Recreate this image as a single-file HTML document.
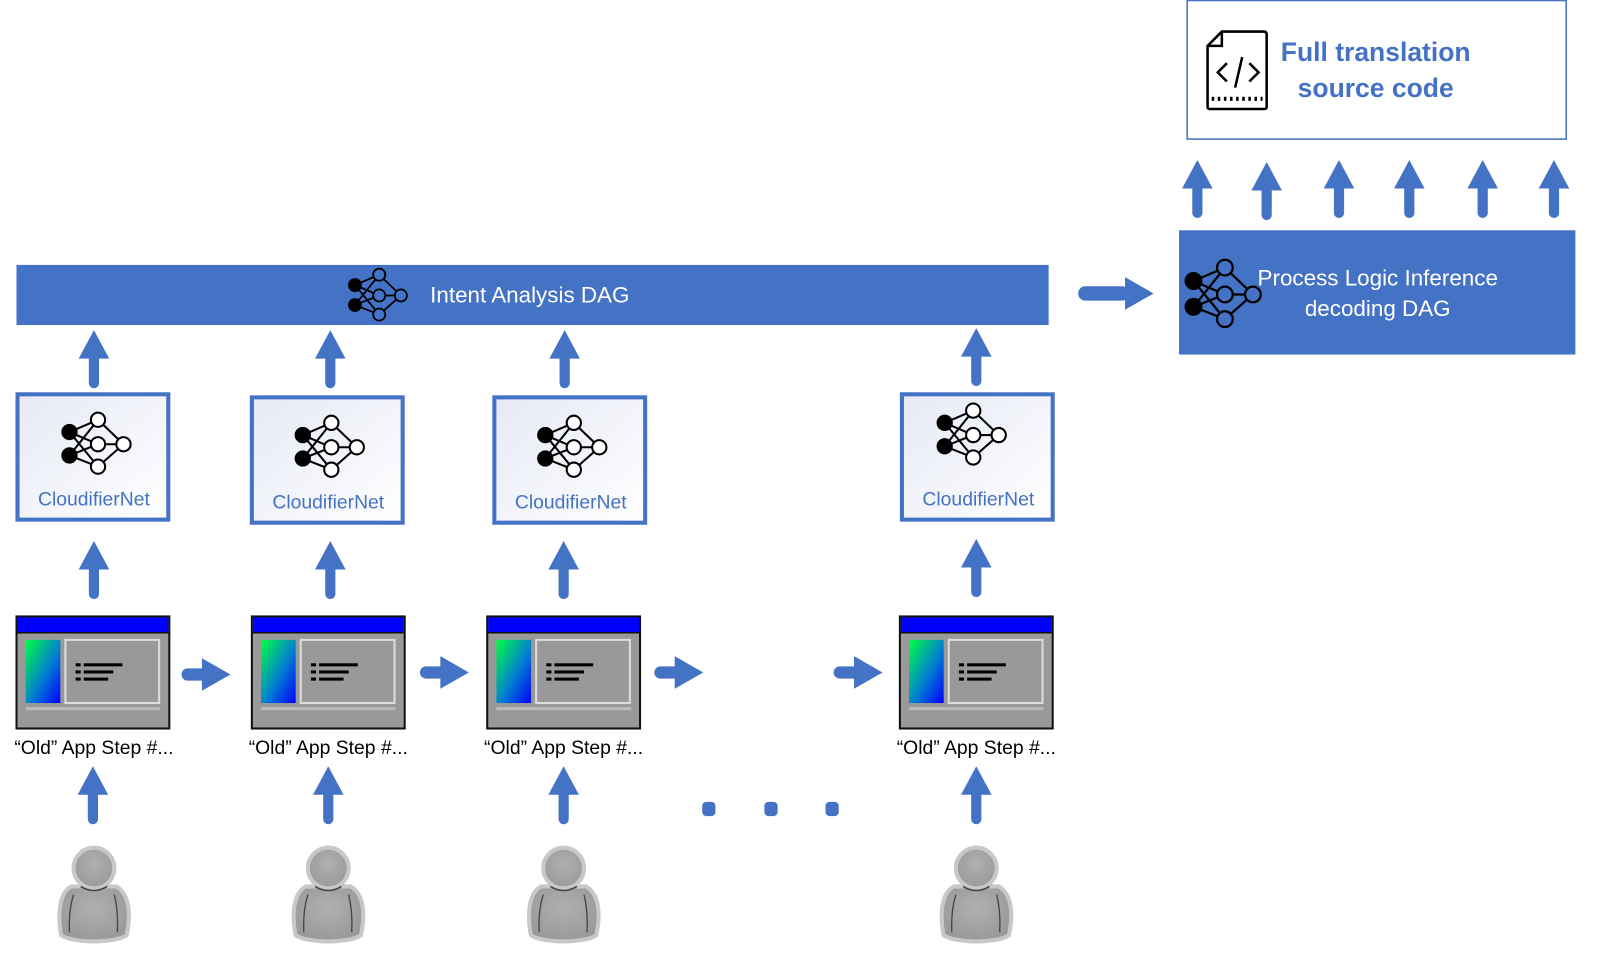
<!DOCTYPE html>
<html><head><meta charset="utf-8"><style>
html,body{margin:0;padding:0;background:#fff;}
svg{display:block;}
text{font-family:"Liberation Sans",sans-serif;}
</style></head><body>
<svg width="1598" height="971" viewBox="0 0 1568 953" xmlns="http://www.w3.org/2000/svg">
<defs>
<linearGradient id="gb" x1="0" y1="0" x2="1" y2="1"><stop offset="0" stop-color="#00ff40"/><stop offset="0.55" stop-color="#0080d0"/><stop offset="1" stop-color="#0000ff"/></linearGradient>
<linearGradient id="bx" x1="0" y1="0" x2="1" y2="1"><stop offset="0" stop-color="#e6e9f5"/><stop offset="1" stop-color="#ffffff"/></linearGradient>
<radialGradient id="pg" cx="0.5" cy="0.4" r="0.6"><stop offset="0" stop-color="#b0b0b0"/><stop offset="1" stop-color="#999"/></radialGradient>
<g id="up"><path d="M0 0 L15 28 L5 28 L5 52 A5 5 0 0 1 -5 52 L-5 28 L-15 28 Z" fill="#4472C4"/></g>
<g id="rt"><path d="M0 0 L-28 -16 L-28 -6 L-42 -6 A6 6 0 0 0 -42 6 L-28 6 L-28 16 Z" fill="#4472C4"/></g>
<g id="net" stroke="#000" stroke-width="2">
<path d="M-28 -12 L0 -24 M-28 -12 L0 0 M-28 -12 L0 22 M-28 11 L0 -24 M-28 11 L0 0 M-28 11 L0 22 M0 -24 L25 0 M0 0 L25 0 M0 22 L25 0" fill="none"/>
<circle cx="-28" cy="-12" r="7" fill="#000"/><circle cx="-28" cy="11" r="7" fill="#000"/>
<circle cx="0" cy="-24" r="7" fill="#fff"/><circle cx="0" cy="0" r="7" fill="#fff"/><circle cx="0" cy="22" r="7" fill="#fff"/><circle cx="25" cy="0" r="7" fill="#fff"/>
</g>
<g id="netb" stroke="#000" stroke-width="2">
<path d="M-28 -12 L0 -24 M-28 -12 L0 0 M-28 -12 L0 22 M-28 11 L0 -24 M-28 11 L0 0 M-28 11 L0 22 M0 -24 L25 0 M0 0 L25 0 M0 22 L25 0" fill="none"/>
<circle cx="-28" cy="-12" r="7" fill="#000"/><circle cx="-28" cy="11" r="7" fill="#000"/>
<circle cx="0" cy="-24" r="7" fill="#4472C4"/><circle cx="0" cy="0" r="7" fill="#4472C4"/><circle cx="0" cy="22" r="7" fill="#4472C4"/><circle cx="25" cy="0" r="7" fill="#4472C4"/>
</g>
<g id="win">
<rect x="0" y="0" width="150" height="110" fill="#999" stroke="#111" stroke-width="2"/>
<rect x="1" y="1" width="148" height="15" fill="#0000ff"/>
<line x1="0" y1="16" x2="150" y2="16" stroke="#111" stroke-width="1.5"/>
<rect x="9" y="23" width="34" height="62" fill="url(#gb)"/>
<rect x="48" y="23" width="92" height="62" fill="none" stroke="#ddd" stroke-width="2"/>
<rect x="58" y="46" width="5" height="3" fill="#000"/><rect x="58" y="53" width="5" height="3" fill="#000"/><rect x="58" y="60" width="5" height="3" fill="#000"/>
<rect x="66" y="46" width="38" height="3" fill="#000"/><rect x="66" y="53" width="29" height="3" fill="#000"/><rect x="66" y="60" width="24" height="3" fill="#000"/>
<rect x="9" y="89" width="132" height="3" fill="#bbb"/>
</g>
<g id="person">
<path d="M-22 10 C-38 18 -34 50 -32 58 C-20 66 20 66 32 58 C36 40 36 18 22 10 Z" fill="url(#pg)" stroke="#c8c8c8" stroke-width="4"/>
<circle cx="0" cy="-8" r="20" fill="url(#pg)" stroke="#c8c8c8" stroke-width="4"/>
<path d="M-13 10 Q0 18 13 10" fill="none" stroke="#444" stroke-width="1.5"/>
<path d="M-20 18 Q-25 34 -24 55 M20 18 Q24 34 23 55" fill="none" stroke="#444" stroke-width="1.3"/>
</g>
</defs>

<!-- top bar -->
<rect x="16" y="260" width="1013" height="59" fill="#4472C4"/>
<use href="#netb" x="372" y="290" transform="translate(372 290) scale(0.85) translate(-372 -290)"/>
<text x="422" y="297" font-size="22" fill="#fff">Intent Analysis DAG</text>

<use href="#rt" x="1132" y="288"/>
<rect x="1058" y="281" width="50" height="14" rx="7" fill="#4472C4"/>

<!-- process box -->
<rect x="1157" y="226" width="389" height="122" fill="#4472C4"/>
<g transform="translate(1202 289) scale(1.1)"><use href="#netb"/></g>
<text x="1352" y="280" font-size="22" fill="#fff" text-anchor="middle">Process Logic Inference</text>
<text x="1352" y="310" font-size="22" fill="#fff" text-anchor="middle">decoding DAG</text>

<!-- source box -->
<rect x="1165" y="0.5" width="372" height="136" fill="#fff" stroke="#4472C4" stroke-width="1.5"/>
<g fill="none" stroke="#000" stroke-width="2.5">
<path d="M1199 31 L1240 31 Q1243 31 1243 34 L1243 105 Q1243 107 1240 107 L1188 107 Q1185 107 1185 105 L1185 45 Z"/>
<path d="M1185 45 L1199 45 L1199 31"/>
<path d="M1204 62 L1195 71 L1204 80 M1226 62 L1235 71 L1226 80 M1219 56 L1212 86"/>
<path d="M1189 97 L1239 97" stroke-dasharray="2.5 3.5" stroke-width="4"/>
</g>
<text x="1350" y="60" font-size="26" font-weight="bold" fill="#4472C4" text-anchor="middle">Full translation</text>
<text x="1350" y="95" font-size="26" font-weight="bold" fill="#4472C4" text-anchor="middle">source code</text>

<!-- arrows above process -->
<use href="#up" x="1175" y="157"/><use href="#up" x="1243" y="159"/><use href="#up" x="1314" y="157"/>
<use href="#up" x="1383" y="157"/><use href="#up" x="1455" y="157"/><use href="#up" x="1525" y="157"/>

<!-- arrows under bar -->
<use href="#up" x="92" y="324"/><use href="#up" x="324" y="324"/><use href="#up" x="554" y="324"/><use href="#up" x="958" y="322"/>

<!-- cloudifier boxes -->
<g stroke="#4472C4" stroke-width="4" fill="url(#bx)">
<rect x="17" y="387" width="148" height="123"/>
<rect x="247" y="390" width="148" height="123"/>
<rect x="485" y="390" width="148" height="123"/>
<rect x="885" y="387" width="148" height="123"/>
</g>
<use href="#net" x="96" y="436"/><use href="#net" x="325" y="439"/><use href="#net" x="563" y="439"/><use href="#net" x="955" y="427"/>
<g font-size="19" fill="#4472C4" text-anchor="middle">
<text x="92" y="496">CloudifierNet</text><text x="322" y="499">CloudifierNet</text><text x="560" y="499">CloudifierNet</text><text x="960" y="496">CloudifierNet</text>
</g>

<!-- arrows box<-window -->
<use href="#up" x="92" y="531"/><use href="#up" x="324" y="531"/><use href="#up" x="553" y="531"/><use href="#up" x="958" y="529"/>

<!-- windows -->
<use href="#win" x="16" y="605"/><use href="#win" x="247" y="605"/><use href="#win" x="478" y="605"/><use href="#win" x="883" y="605"/>

<!-- right arrows -->
<use href="#rt" x="226" y="662"/><use href="#rt" x="460" y="660"/><use href="#rt" x="690" y="660"/><use href="#rt" x="866" y="660"/>

<g font-size="19" fill="#000" text-anchor="middle">
<text x="92" y="740">“Old” App Step #...</text><text x="322" y="740">“Old” App Step #...</text>
<text x="553" y="740">“Old” App Step #...</text><text x="958" y="740">“Old” App Step #...</text>
</g>

<use href="#up" x="91" y="752"/><use href="#up" x="322" y="752"/><use href="#up" x="553" y="752"/><use href="#up" x="958" y="752"/>

<g fill="#4472C4"><rect x="689" y="787" width="13" height="14" rx="4"/><rect x="750" y="787" width="13" height="14" rx="4"/><rect x="810" y="787" width="13" height="14" rx="4"/></g>

<use href="#person" x="92" y="860"/><use href="#person" x="322" y="860"/><use href="#person" x="553" y="860"/><use href="#person" x="958" y="860"/>
</svg>
</body></html>
